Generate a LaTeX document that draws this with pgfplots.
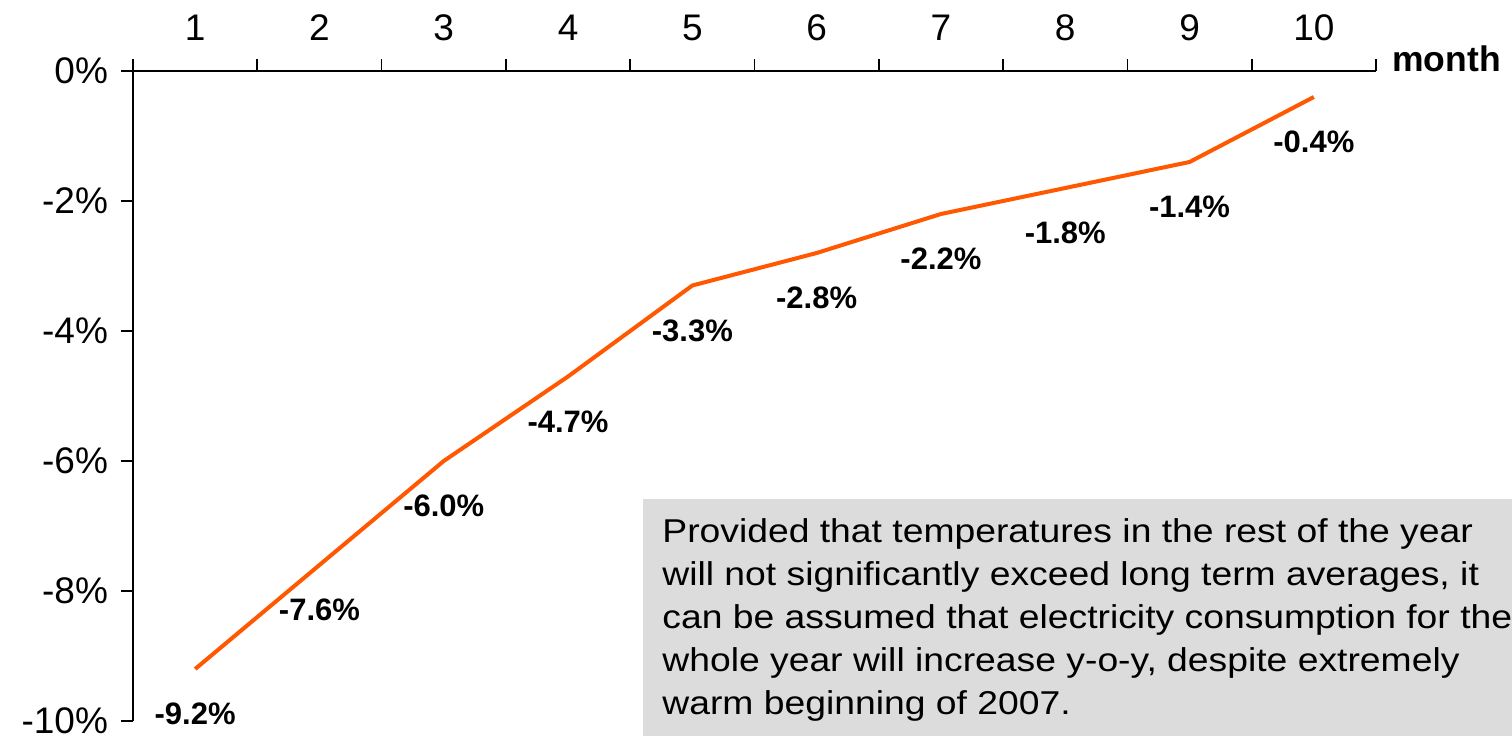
\documentclass[border=0pt]{standalone}
\usepackage{fontspec}
\setmainfont{Liberation Sans}
\newfontfamily\boxfont[FakeStretch=1.13]{Liberation Sans}
\usepackage{pgfplots}
\pgfplotsset{compat=1.18}
\definecolor{lineorange}{RGB}{255,88,0}
\definecolor{boxgray}{RGB}{220,220,220}
\begin{document}
\begin{tikzpicture}
\begin{axis}[
  at={(66.5pt,7.5pt)}, anchor=south west,
  scale only axis, width=621.5pt, height=325pt,
  xmin=0.5, xmax=10.5, ymin=-10, ymax=0,
  enlargelimits=false, clip=false,
  axis x line*=top, axis y line*=left,
  axis line style={line width=0.8pt, black},
  tick align=outside,
  major tick length=6pt, minor tick length=6pt,
  every tick/.style={line width=0.8pt, black},
  xtick={1,2,3,4,5,6,7,8,9,10},
  xticklabels={1,2,3,4,5,6,7,8,9,10},
  minor xtick={0.5,1.5,2.5,3.5,4.5,5.5,6.5,7.5,8.5,9.5,10.5},
  major x tick style={draw=none},
  ytick={-10,-8,-6,-4,-2,0},
  yticklabels={-10\%,-8\%,-6\%,-4\%,-2\%,0\%},
  ticklabel style={font=\fontsize{18.5}{22}\selectfont},
  xticklabel style={yshift=5.5pt},
  yticklabel style={xshift=-3pt},
  /pgf/number format/assume math mode=true,
  point meta=explicit symbolic,
  nodes near coords,
  every node near coord/.append style={anchor=base, yshift=-27.75pt, font=\fontsize{15.5}{18}\selectfont\bfseries, text=black},
]
\addplot[color=lineorange, line width=2pt, mark=none] coordinates {
  (1,-9.2) [-9.2\%]
  (2,-7.6) [-7.6\%]
  (3,-6.0) [-6.0\%]
  (4,-4.7) [-4.7\%]
  (5,-3.3) [-3.3\%]
  (6,-2.8) [-2.8\%]
  (7,-2.2) [-2.2\%]
  (8,-1.8) [-1.8\%]
  (9,-1.4) [-1.4\%]
  (10,-0.4) [-0.4\%]
};
\node[anchor=base west, inner sep=0pt, font=\fontsize{17.75}{20}\selectfont\bfseries] at ([xshift=8pt]rel axis cs:1,1) {month};
\end{axis}
\fill[boxgray] (321.5pt,0pt) rectangle (756pt,118.5pt);
\begin{scope}[every node/.style={anchor=base west, inner sep=0pt, font=\boxfont\fontsize{16.5}{18}\selectfont}]
\node at (331pt,97pt) {Provided that temperatures in the rest of the year};
\node at (331pt,75.5pt) {will not significantly exceed long term averages, it};
\node at (331pt,54pt) {can be assumed that electricity consumption for the};
\node at (331pt,32.5pt) {whole year will increase y-o-y, despite extremely};
\node at (331pt,11pt) {warm beginning of 2007.};
\end{scope}
\pgfresetboundingbox
\useasboundingbox (0pt,0pt) rectangle (756pt,368pt);
\end{tikzpicture}
\end{document}
